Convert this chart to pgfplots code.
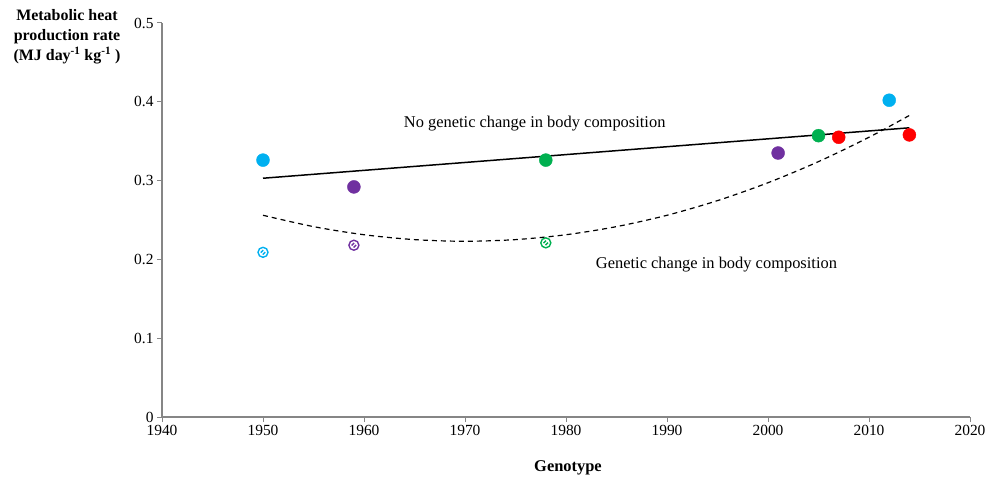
\documentclass[border=0pt]{standalone}
\usepackage{fontspec}
\setmainfont{Liberation Serif}
\usepackage{pgfplots}
\pgfplotsset{compat=1.18}
\definecolor{cblue}{RGB}{0,176,240}
\definecolor{cpurple}{RGB}{112,48,160}
\definecolor{cgreen}{RGB}{0,176,80}
\definecolor{cred}{RGB}{255,0,0}
\definecolor{axgray}{RGB}{134,134,134}
\pgfdeclareplotmark{hatch}{%
  \pgfpathcircle{\pgfpointorigin}{\pgfplotmarksize}\pgfusepathqstroke
  \pgfpathmoveto{\pgfpoint{-0.45\pgfplotmarksize}{-0.05\pgfplotmarksize}}
  \pgfpathlineto{\pgfpoint{0.05\pgfplotmarksize}{0.45\pgfplotmarksize}}
  \pgfpathmoveto{\pgfpoint{-0.05\pgfplotmarksize}{-0.45\pgfplotmarksize}}
  \pgfpathlineto{\pgfpoint{0.45\pgfplotmarksize}{0.05\pgfplotmarksize}}
  \pgfusepathqstroke}
\begin{document}
\begin{tikzpicture}
\begin{axis}[name=ax,
  scale only axis, width=808bp, height=394bp,
  xmin=1940, xmax=2020, ymin=0, ymax=0.5,
  xtick={1940,1950,...,2020}, ytick={0,0.1,...,0.5},
  axis x line*=bottom, axis y line*=left,
  axis line style={axgray, line width=1.3pt, -},
  tick style={axgray, line width=1pt},
  tick align=outside, major tick length=5bp,
  x tick label style={font=\fontsize{15.5}{16}\selectfont, /pgf/number format/1000 sep=},
  y tick label style={font=\fontsize{15.5}{16}\selectfont},
  /pgf/number format/assume math mode=true,
  yticklabel style={/pgf/number format/fixed},
  clip=false,
]
\addplot[black, line width=1.5pt] coordinates {(1950,0.303) (2014,0.367)};
\addplot[black, line width=1.2pt, dash pattern=on 5bp off 4bp, smooth] coordinates {
(1950,0.256) (1955,0.2416) (1960,0.2313) (1965,0.2251) (1970,0.223) (1975,0.2251)
(1980,0.2313) (1985,0.2416) (1990,0.256) (1995,0.2746) (2000,0.2973) (2005,0.3241)
(2010,0.355) (2014,0.3827)};
\addplot[only marks, mark=*, mark size=6.5bp, cblue, draw=none] coordinates {(1950,0.326) (2012,0.402)};
\addplot[only marks, mark=*, mark size=6.5bp, cpurple, draw=none] coordinates {(1959,0.292) (2001,0.335)};
\addplot[only marks, mark=*, mark size=6.5bp, cgreen, draw=none] coordinates {(1978,0.326) (2005,0.357)};
\addplot[only marks, mark=*, mark size=6.5bp, cred, draw=none] coordinates {(2007,0.355) (2014,0.358)};
\addplot[only marks, mark=hatch, mark size=5bp, cblue, line width=1.4pt] coordinates {(1950,0.209)};
\addplot[only marks, mark=hatch, mark size=5bp, cpurple, line width=1.4pt] coordinates {(1959,0.218)};
\addplot[only marks, mark=hatch, mark size=5bp, cgreen, line width=1.4pt] coordinates {(1978,0.221)};
\node[font=\fontsize{16.5}{17}\selectfont] at (axis cs:1976.9,0.373) {No genetic change in body composition};
\node[font=\fontsize{16.5}{17}\selectfont] at (axis cs:1994.9,0.194) {Genetic change in body composition};
\end{axis}
\node[font=\fontsize{16}{20}\selectfont\bfseries, align=center] at ([xshift=-95bp,yshift=-14bp]ax.north west)
  {Metabolic heat\\production rate\\(MJ day\textsuperscript{-1} kg\textsuperscript{-1} )};
\node[font=\fontsize{16.5}{20}\selectfont\bfseries] at ([xshift=2bp,yshift=-51bp]ax.south) {Genotype};
\pgfresetboundingbox
\path[use as bounding box] ([xshift=-162bp,yshift=-63bp]ax.south west) rectangle ([xshift=19bp,yshift=23bp]ax.north east);
\end{tikzpicture}
\end{document}
